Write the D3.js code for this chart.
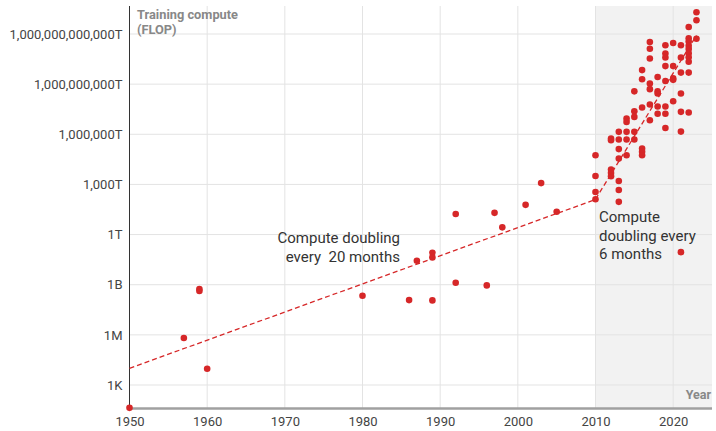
<!DOCTYPE html>
<html>
<head>
<meta charset="utf-8">
<script src="https://cdn.jsdelivr.net/npm/d3@7"></script>
<style>
html,body{margin:0;padding:0;background:#fff;}
svg{display:block;font-family:Roboto,"Noto Sans",sans-serif;}
</style>
</head>
<body>
<svg id="chart" width="716" height="431"></svg>
<script>
// ---- data ----
const years = [
  1950,1957,1959,1959,1960,1980,1986,1987,1989,1989,1989,1992,1992,1996,1997,1998,2001,2003,2005,
  2010,2010,2010,2010,
  2012,2012,2012,2012,2012,
  2013,2013,2013,2013,2013,2013,2013,
  2014,2014,2014,2014,2014,
  2015,2015,2015,2015,2015,
  2016,2016,2016,2016,2016,2016,
  2017,2017,2017,2017,2017,2017,2017,
  2018,2018,2018,2018,2018,
  2019,2019,2019,2019,2019,2019,2019,2019,
  2020,2020,2020,2020,2020,
  2021,2021,2021,2021,2021,2021,2021,
  2022,2022,2022,2022,2022,2022,2022,2022,2022,2022,
  2023,2023,2023
];
const computeFLOP = [
  4.3e1,6.5e5,5.5e8,4.2e8,9.3e3,2.2e8,1.2e8,2.7e10,8.1e10,4.3e10,1.15e8,1.7e13,1.3e9,9.1e8,2.0e13,2.7e12,6.0e13,1.2e15,2.3e13,
  5.6e16,3.2e15,3.5e14,1.3e14,
  5.6e17,4.4e17,7.8e15,4.9e15,3.1e15,
  1.4e18,4.9e17,1.3e17,3.5e16,1.6e15,4.6e14,9.1e13,
  8.7e18,5.5e18,1.4e18,4.9e17,5.6e16,
  3.7e20,2.4e19,1.1e19,1.4e18,4.9e17,
  6.9e21,1.95e21,4.0e19,1.4e17,8.9e16,5.6e16,
  3.3e23,1.3e23,3.4e22,1.1e21,5.0e20,6.0e19,6.9e18,
  2.7e21,3.7e20,2.75e20,4.6e19,1.7e19,
  2.1e23,6.8e22,3.9e22,1.2e22,1.55e21,4.6e19,1.7e19,2.4e18,
  2.9e23,1.2e22,2.2e21,1.8e21,9.5e19,
  2.1e23,3.9e22,4.9e21,2.75e20,2.2e19,1.45e18,8.9e10,
  2.6e24,5.6e23,3.5e23,2.0e23,1.26e23,7.1e22,4.0e22,2.2e22,4.9e21,2.0e19,
  2.0e25,6.6e24,5.2e23
];
const trendEarlyYears = [1950, 2010];
const trendEarlyFLOP = [1.0e4, 1.26e14];
const trendDeepYears = [2010, 2023];
const trendDeepFLOP = [1.3e14, 8.3e23];
const xTicks = [1950,1960,1970,1980,1990,2000,2010,2020];
const yTickValues = [1e3,1e6,1e9,1e12,1e15,1e18,1e21,1e24];
const yTickLabels = ["1K","1M","1B","1T","1,000T","1,000,000T","1,000,000,000T","1,000,000,000,000T"];
const shadeStartYear = 2010;

// ---- layout ----
const W = 716, H = 431;
const margin = {left: 129.5, right: 4, top: 6, bottom: 22.5};
const x0 = margin.left, x1 = W - margin.right;
const y0 = margin.top, y1 = H - margin.bottom;
const red = "#d62728";

const svg = d3.select("#chart");
const x = d3.scaleLinear().domain([1950, 2025]).range([x0, x1]);
const y = d3.scaleLog().domain([39.3, 4.73e25]).range([y1, y0]);

// shaded region
svg.append("rect")
  .attr("x", x(shadeStartYear)).attr("y", y0)
  .attr("width", x1 - x(shadeStartYear)).attr("height", y1 - y0)
  .attr("fill", "#f2f2f2");

// grid
const grid = svg.append("g");
grid.selectAll("line.v").data(xTicks.slice(1)).join("line")
  .attr("x1", d => x(d)).attr("x2", d => x(d))
  .attr("y1", y0).attr("y2", y1)
  .attr("stroke", "#e3e3e3").attr("stroke-width", 1);
grid.selectAll("line.h").data(yTickValues).join("line")
  .attr("x1", x0).attr("x2", x1)
  .attr("y1", d => y(d)).attr("y2", d => y(d))
  .attr("stroke", "#e3e3e3").attr("stroke-width", 1);

// y axis
const yAxis = d3.axisLeft(y).tickValues(yTickValues)
  .tickFormat((d, i) => yTickLabels[i]).tickSize(0).tickPadding(7);
const gy = svg.append("g").attr("transform", `translate(${x0},0)`).call(yAxis);
gy.select(".domain").remove();
gy.selectAll("text").attr("font-size", 13).attr("fill", "#444")
  .attr("font-family", "Roboto, sans-serif");
svg.append("line").attr("x1", x0).attr("x2", x0).attr("y1", y0).attr("y2", y1)
  .attr("stroke", "#333").attr("stroke-width", 1);

// x axis
const xAxis = d3.axisBottom(x).tickValues(xTicks).tickFormat(d3.format("d"))
  .tickSize(0).tickPadding(8);
const gx = svg.append("g").attr("transform", `translate(0,${y1})`).call(xAxis);
gx.select(".domain").remove();
gx.selectAll("text").attr("font-size", 13).attr("fill", "#444")
  .attr("font-family", "Roboto, sans-serif");
svg.append("line").attr("x1", x0).attr("x2", x1).attr("y1", y1).attr("y2", y1)
  .attr("stroke", "#a0a0a0").attr("stroke-width", 2.5);

// axis titles
const title = svg.append("text").attr("x", 137).attr("y", 19)
  .attr("font-size", 12.8).attr("font-weight", "bold").attr("fill", "#888");
title.append("tspan").attr("x", 137).text("Training compute");
title.append("tspan").attr("x", 137).attr("dy", 14.5).text("(FLOP)");
svg.append("text").attr("x", x1 - 1).attr("y", 399).attr("text-anchor", "end")
  .attr("font-size", 12.5).attr("font-weight", "bold").attr("fill", "#888").text("Year");

// trend lines
const line = d3.line().x(d => x(d[0])).y(d => y(d[1]));
svg.append("path").datum(trendEarlyYears.map((d, i) => [d, trendEarlyFLOP[i]]))
  .attr("d", line).attr("fill", "none").attr("stroke", red)
  .attr("stroke-width", 1.3).attr("stroke-dasharray", "5,3");
svg.append("path").datum(trendDeepYears.map((d, i) => [d, trendDeepFLOP[i]]))
  .attr("d", line).attr("fill", "none").attr("stroke", red)
  .attr("stroke-width", 1.3).attr("stroke-dasharray", "5,3");

// points
svg.append("g").selectAll("circle").data(years.map((d, i) => [d, computeFLOP[i]])).join("circle")
  .attr("cx", d => x(d[0])).attr("cy", d => y(d[1])).attr("r", 3.3).attr("fill", red);

// annotations
const a1 = svg.append("text").attr("text-anchor", "end").attr("font-size", 15)
  .attr("fill", "#333").attr("y", 243);
a1.append("tspan").attr("x", 400).text("Compute doubling");
a1.append("tspan").attr("x", 400).attr("dy", 19).text("every\u00a0 20 months");
const a2 = svg.append("text").attr("text-anchor", "start").attr("font-size", 15)
  .attr("fill", "#333").attr("y", 222);
a2.append("tspan").attr("x", 599).text("Compute");
a2.append("tspan").attr("x", 599).attr("dy", 18.5).text("doubling every");
a2.append("tspan").attr("x", 599).attr("dy", 18).text("6 months");
</script>
</body>
</html>
